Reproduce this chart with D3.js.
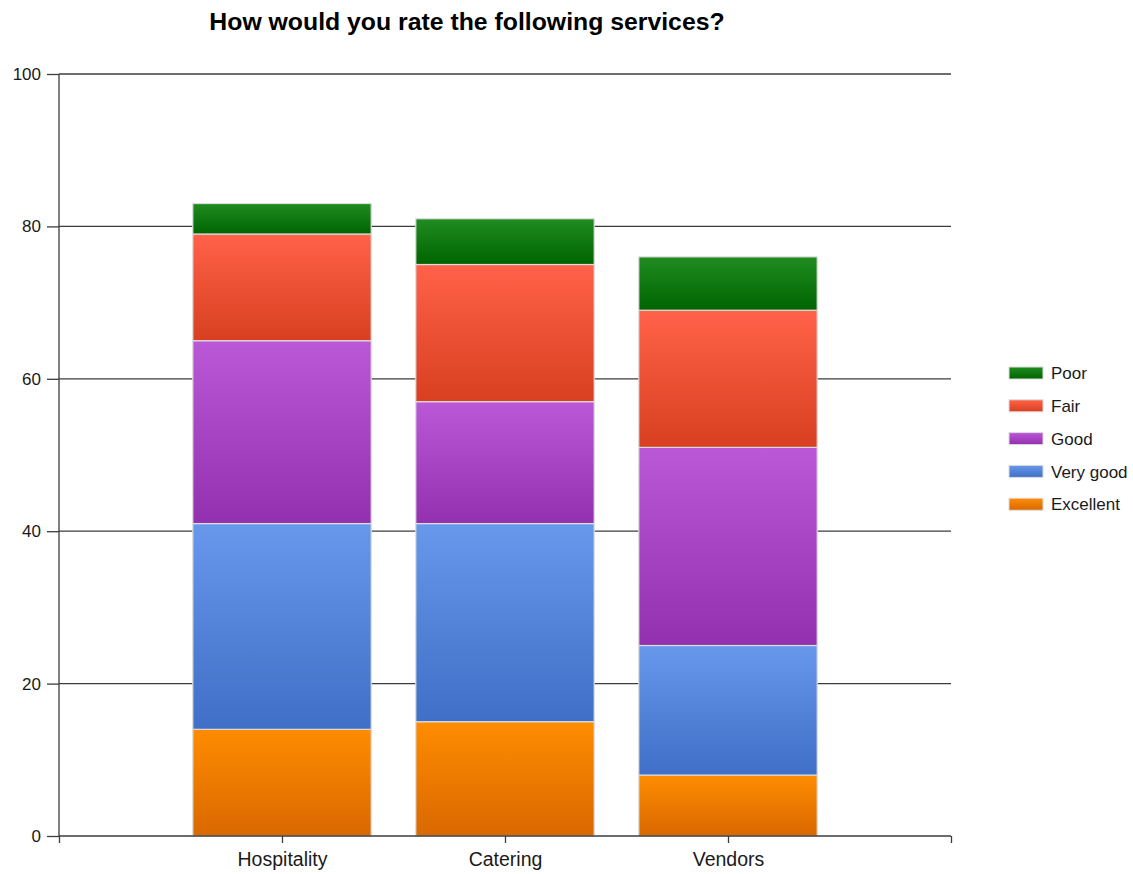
<!DOCTYPE html>
<html><head><meta charset="utf-8">
<script src="https://cdn.jsdelivr.net/npm/d3@7"></script>
<style>body{margin:0;background:#fff;font-family:"Liberation Sans",Arial,sans-serif;}</style>
</head><body><svg id="c" width="1133" height="874"></svg>
<script>
const categories = ["Hospitality", "Catering", "Vendors"];
const seriesNames = ["Excellent", "Very good", "Good", "Fair", "Poor"];
const excellent = [14, 15, 8];
const veryGood = [27, 26, 17];
const good = [24, 16, 26];
const fair = [14, 18, 18];
const poor = [4, 6, 7];
const yTicks = [0, 20, 40, 60, 80, 100];
const title = "How would you rate the following services?";

const colors = {
  "Excellent": ["#ff8c00", "#d96800"],
  "Very good": ["#6798ec", "#3f6fc6"],
  "Good": ["#ba58d8", "#9330b0"],
  "Fair": ["#ff6248", "#d83f20"],
  "Poor": ["#208c20", "#006400"]
};

const values = [excellent, veryGood, good, fair, poor];
const rows = categories.map((c, i) => {
  const r = {cat: c, idx: i + 1};
  seriesNames.forEach((s, j) => r[s] = values[j][i]);
  return r;
});
const stacked = d3.stack().keys(seriesNames)(rows);

const svg = d3.select("#c");
const FONT = "'Liberation Sans',Arial,sans-serif";
const L = 59, R = 951, T = 74, B = 836;
const x = d3.scaleLinear().domain([0, categories.length + 1]).range([L, R]);
const y = d3.scaleLinear().domain([0, 100]).range([B, T]);
const step = x(1) - x(0);
const bw = step * 0.8;

const defs = svg.append("defs");
seriesNames.forEach((s, j) => {
  const g = defs.append("linearGradient").attr("id", "g" + j)
    .attr("x1", 0).attr("y1", 0).attr("x2", 0).attr("y2", 1);
  g.append("stop").attr("offset", "0%").attr("stop-color", colors[s][0]);
  g.append("stop").attr("offset", "100%").attr("stop-color", colors[s][1]);
});

// gridlines
svg.append("g").selectAll("line").data(yTicks.filter(d => d > 0)).join("line")
  .attr("x1", L).attr("x2", R).attr("y1", d => y(d)).attr("y2", d => y(d))
  .attr("stroke", "#3c3c3c").attr("stroke-width", 1.3);

// bars
stacked.forEach((layer, j) => {
  svg.append("g").selectAll("rect").data(layer).join("rect")
    .attr("x", d => x(d.data.idx) - bw / 2)
    .attr("width", bw)
    .attr("y", d => y(d[1]))
    .attr("height", d => y(d[0]) - y(d[1]))
    .attr("fill", "url(#g" + j + ")")
    .attr("stroke", "#dcdcdc").attr("stroke-width", 1.2);
});

// y axis
const yAxis = svg.append("g").attr("transform", `translate(${L},0)`)
  .call(d3.axisLeft(y).tickValues(yTicks).tickSize(12).tickPadding(6).tickFormat(d3.format("d")));
yAxis.select(".domain").attr("stroke", "#3c3c3c").attr("stroke-width", 1.3).attr("d", `M0,${T}V${B}`);
yAxis.selectAll(".tick line").attr("stroke", "#3c3c3c").attr("stroke-width", 1.3);
yAxis.selectAll("text").attr("font-size", 17).attr("fill", "#1a1a1a").attr("font-family", FONT);

// x axis
const xAxis = svg.append("g").attr("transform", `translate(0,${B})`)
  .call(d3.axisBottom(x).tickValues(d3.range(0, categories.length + 2)).tickSize(7).tickPadding(9)
    .tickFormat(i => (i >= 1 && i <= categories.length) ? categories[i - 1] : ""));
xAxis.select(".domain").attr("stroke", "#3c3c3c").attr("stroke-width", 1.3).attr("d", `M${L},0H${R}`);
xAxis.selectAll(".tick line").attr("stroke", "#3c3c3c").attr("stroke-width", 1.3);
xAxis.selectAll("text").attr("font-size", 19.5).attr("fill", "#1a1a1a").attr("font-family", FONT);

// title
svg.append("text").attr("x", 467).attr("y", 30).attr("text-anchor", "middle")
  .attr("font-size", 24.8).attr("font-weight", "bold").attr("fill", "#000")
  .attr("font-family", FONT).text(title);

// legend
const legendOrder = seriesNames.slice().reverse();
const lg = svg.append("g").selectAll("g").data(legendOrder).join("g")
  .attr("transform", (d, i) => `translate(1009,${367 + i * 32.8})`);
lg.append("rect").attr("width", 34).attr("height", 12)
  .attr("fill", (d) => "url(#g" + seriesNames.indexOf(d) + ")").attr("stroke", "#dcdcdc");
lg.append("text").attr("x", 42).attr("y", 6).attr("dy", "0.36em")
  .attr("font-size", 17).attr("fill", "#1a1a1a").attr("font-family", FONT).text(d => d);
</script></body></html>
